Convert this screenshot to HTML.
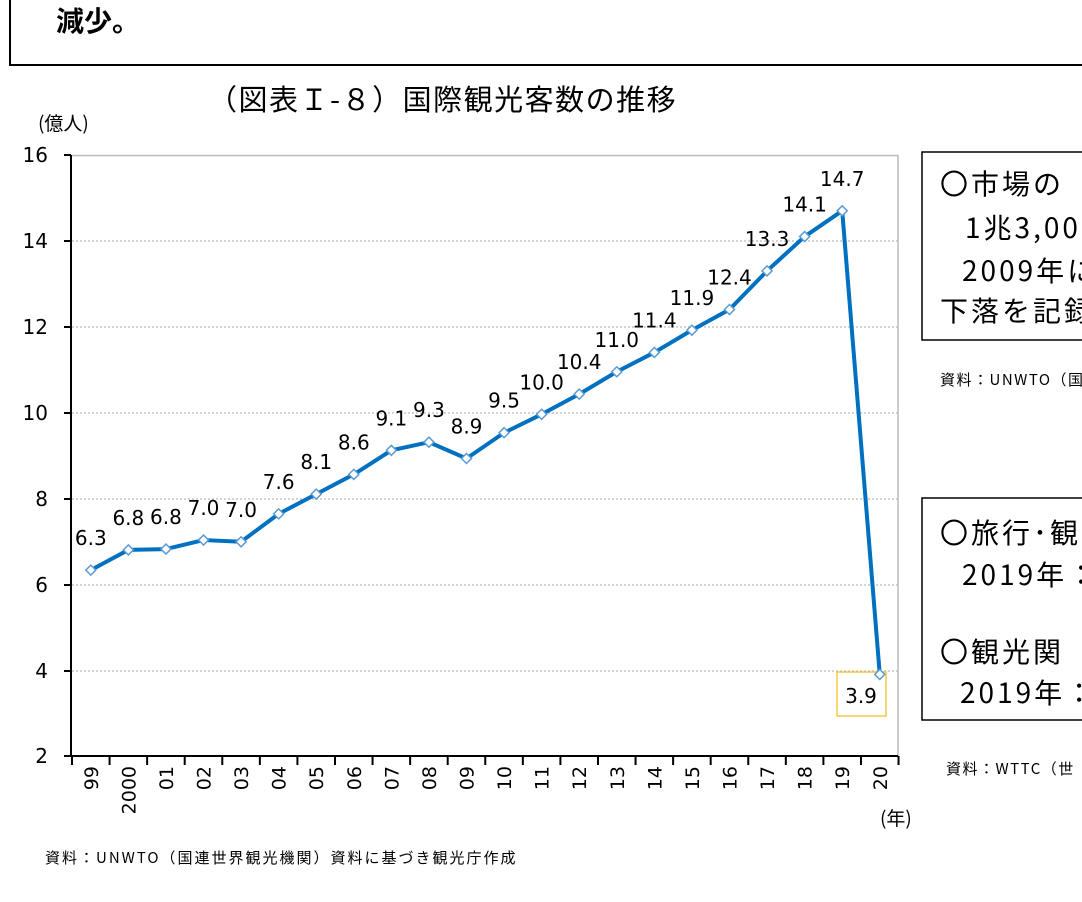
<!DOCTYPE html>
<html><head><meta charset="utf-8"><style>
body{margin:0;background:#fff;width:1082px;height:897px;overflow:hidden;font-family:"Liberation Sans","Noto Sans CJK JP",sans-serif}
</style></head><body>
<svg width="1082" height="897" xmlns="http://www.w3.org/2000/svg" font-family="'DejaVu Sans','Noto Sans CJK JP',sans-serif">
<rect x="10" y="-10" width="1100" height="75" fill="none" stroke="#000" stroke-width="2"/>
<text x="56" y="31" font-size="28" font-weight="bold" font-family="'Noto Sans CJK JP',sans-serif">減少。</text>
<text x="208" y="110" font-size="29" letter-spacing="1.5" font-family="'Noto Sans CJK JP',sans-serif">（図表Ｉ-８）国際観光客数の推移</text>
<text x="38" y="130" font-size="19" font-family="'Noto Sans CJK JP',sans-serif">(億人)</text>
<g stroke="#aaa" stroke-width="1" stroke-dasharray="2,2">
<line x1="72" y1="241" x2="898" y2="241"/><line x1="72" y1="327" x2="898" y2="327"/>
<line x1="72" y1="413" x2="898" y2="413"/><line x1="72" y1="499" x2="898" y2="499"/>
<line x1="72" y1="585" x2="898" y2="585"/><line x1="72" y1="671" x2="898" y2="671"/>
</g>
<line x1="72" y1="155.5" x2="898" y2="155.5" stroke="#bbb" stroke-width="1.5"/>
<line x1="898" y1="155" x2="898" y2="756" stroke="#bbb" stroke-width="1.5"/>
<g stroke="#000" stroke-width="2">
<line x1="71" y1="155" x2="71" y2="757"/><line x1="71" y1="756" x2="898" y2="756"/>
<line x1="64" y1="155" x2="71" y2="155"/><line x1="64" y1="241" x2="71" y2="241"/><line x1="64" y1="327" x2="71" y2="327"/><line x1="64" y1="413" x2="71" y2="413"/><line x1="64" y1="499" x2="71" y2="499"/><line x1="64" y1="585" x2="71" y2="585"/><line x1="64" y1="671" x2="71" y2="671"/><line x1="64" y1="756" x2="71" y2="756"/>
</g>
<g stroke="#000" stroke-width="2" id="xt"></g>
<g font-size="20" text-anchor="end">
<text x="48" y="162">16</text><text x="48" y="248">14</text><text x="48" y="334">12</text><text x="48" y="420">10</text><text x="48" y="506">8</text><text x="48" y="592">6</text><text x="48" y="678">4</text><text x="48" y="763">2</text>
</g>
<rect x="837" y="672" width="49" height="44" fill="none" stroke="#f5c842" stroke-width="1.5"/>
<polyline id="line" fill="none" stroke="#0070c0" stroke-width="4" stroke-linejoin="round"/>
<g id="plot"></g>
<text x="880" y="825" font-size="19" font-family="'Noto Sans CJK JP',sans-serif">(年)</text>
<text x="45" y="863" font-size="15" letter-spacing="2" font-family="'Noto Sans CJK JP',sans-serif">資料：UNWTO（国連世界観光機関）資料に基づき観光庁作成</text>
<rect x="922" y="152" width="200" height="188" fill="none" stroke="#000" stroke-width="1.5"/>
<g font-size="28" letter-spacing="3" font-family="'Noto Sans CJK JP',sans-serif">
<text x="940" y="194">〇市場の</text>
<text x="965" y="238">1兆3,000</text>
<text x="962" y="281">2009年に</text>
<text x="940" y="321">下落を記録</text>
</g>
<rect x="922" y="498" width="200" height="222" fill="none" stroke="#000" stroke-width="1.5"/>
<g font-size="28" letter-spacing="3" font-family="'Noto Sans CJK JP',sans-serif">
<text x="940" y="543">〇旅行･観</text>
<text x="962" y="585">2019年：</text>
<text x="940" y="662">〇観光関</text>
<text x="960" y="703">2019年：</text>
</g>
<text x="940" y="385" font-size="15" letter-spacing="1.5" font-family="'Noto Sans CJK JP',sans-serif">資料：UNWTO（国</text>
<text x="946" y="774" font-size="15" letter-spacing="1.5" font-family="'Noto Sans CJK JP',sans-serif">資料：WTTC（世</text>
</svg>
<script>
var v=[6.33,6.8,6.82,7.03,6.99,7.64,8.1,8.56,9.12,9.31,8.93,9.53,9.96,10.43,10.95,11.4,11.92,12.4,13.3,14.1,14.7,3.9];
var lab=["6.3","6.8","6.8","7.0","7.0","7.6","8.1","8.6","9.1","9.3","8.9","9.5","10.0","10.4","11.0","11.4","11.9","12.4","13.3","14.1","14.7","3.9"];
var xl=["99","2000","01","02","03","04","05","06","07","08","09","10","11","12","13","14","15","16","17","18","19","20"];
var p=document.getElementById("plot"),xt=document.getElementById("xt");
function X(i){return 90.8+37.57*i}function Y(a){return 756-(a-2)*42.93}
document.getElementById("line").setAttribute("points",v.map(function(a,i){return X(i)+","+Y(a)}).join(" "));
var s='';
for(var i=0;i<22;i++){var x=X(i),y=Y(v[i]);
s+='<path d="M'+x+' '+(y-5)+'L'+(x+5)+' '+y+'L'+x+' '+(y+5)+'L'+(x-5)+' '+y+'Z" fill="#fff" stroke="#5b9bd5" stroke-width="1.5"/>';
if(i<21)s+='<text x="'+x+'" y="'+(y-25)+'" font-size="20" text-anchor="middle">'+lab[i]+'</text>';
else s+='<text x="861" y="703" font-size="20" text-anchor="middle">3.9</text>';
s+='<text transform="translate('+(x+7)+',766) rotate(-90)" font-size="19" text-anchor="end">'+xl[i]+'</text>';}
p.innerHTML=s;
var t='';for(var i=0;i<=22;i++){var x=72+37.57*i;t+='<line x1="'+x+'" y1="756" x2="'+x+'" y2="765"/>';}
xt.innerHTML=t;
</script>
</body></html>
